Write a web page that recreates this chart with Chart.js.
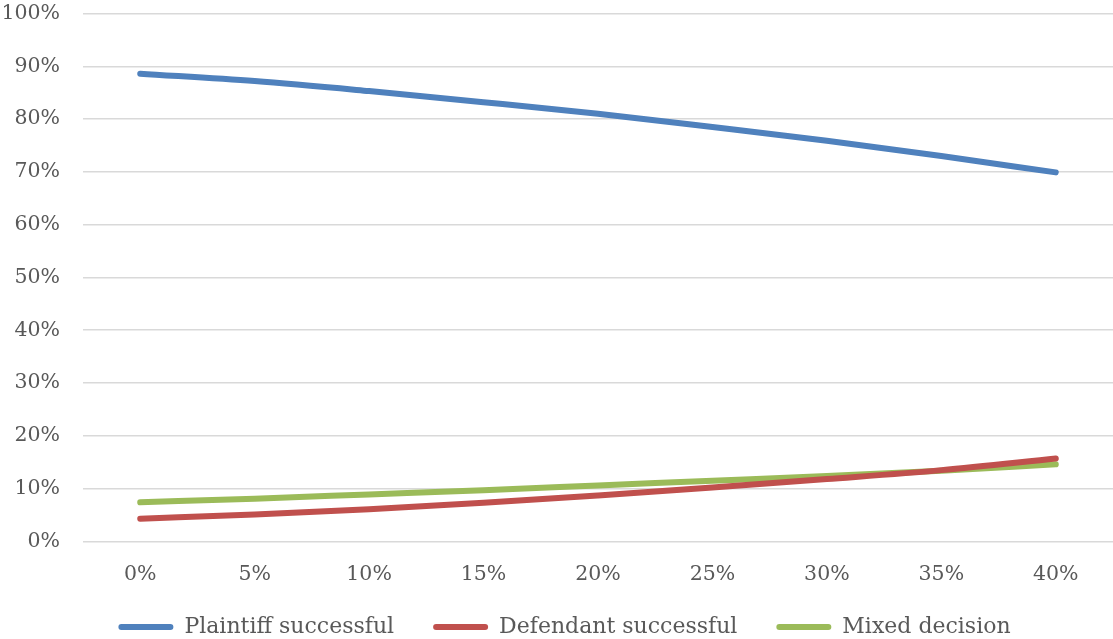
<!DOCTYPE html>
<html>
<head>
<meta charset="utf-8">
<script src="https://cdn.jsdelivr.net/npm/chart.js@4"></script>
<style>
  html, body { margin: 0; padding: 0; background: #ffffff; }
  #wrap { width: 1113px; height: 639px; position: relative; }
</style>
</head>
<body>
<div id="wrap"><canvas id="chart"></canvas></div>
<script>
// Share of outcomes by x-category (percent)
const categories = ['0%', '5%', '10%', '15%', '20%', '25%', '30%', '35%', '40%'];
const plaintiffSuccessful = [88.6, 87.2, 85.3, 83.2, 81.0, 78.5, 75.9, 73.0, 69.9];
const defendantSuccessful = [4.3, 5.1, 6.1, 7.3, 8.7, 10.2, 11.8, 13.5, 15.7];
const mixedDecision = [7.4, 8.1, 8.9, 9.7, 10.6, 11.5, 12.4, 13.4, 14.6];
const seriesNames = ['Plaintiff successful', 'Defendant successful', 'Mixed decision'];
const yTicks = [0, 10, 20, 30, 40, 50, 60, 70, 80, 90, 100];

const colors = ['#4F81BD', '#C0504D', '#9BBB59'];
const family = '"DejaVu Serif", "Liberation Serif", serif';
const tickFont = { family, size: 20.5 };
const legendFont = { family, size: 22 };

function series(label, data, color) {
  return {
    label,
    data,
    borderColor: color,
    backgroundColor: color,
    borderWidth: 6,
    borderCapStyle: 'round',
    pointRadius: 0,
    pointHoverRadius: 0,
    tension: 0.4,
    cubicInterpolationMode: 'monotone',
    fill: false
  };
}

// Pull the legend row up closer to the category labels
const legendLift = {
  id: 'legendLift',
  afterLayout(chart) {
    const lg = chart.legend;
    if (lg) { lg.top -= 31; lg.bottom -= 31; }
  }
};

new Chart(document.getElementById('chart'), {
  type: 'line',
  data: {
    labels: categories,
    datasets: [
      series(seriesNames[0], plaintiffSuccessful, colors[0]),
      series(seriesNames[1], defendantSuccessful, colors[1]),
      series(seriesNames[2], mixedDecision, colors[2])
    ]
  },
  plugins: [legendLift],
  options: {
    responsive: true,
    maintainAspectRatio: false,
    animation: false,
    layout: { padding: { top: 13.5, right: 0, left: 16, bottom: -40 } },
    plugins: {
      tooltip: { enabled: false },
      legend: {
        position: 'bottom',
        labels: {
          color: '#595959',
          font: legendFont,
          boxWidth: 55,
          boxHeight: 6,
          useBorderRadius: true,
          borderRadius: 3,
          padding: 39,
          generateLabels: (chart) =>
            Chart.defaults.plugins.legend.labels.generateLabels(chart).map(item => ({
              ...item,
              lineWidth: 0,
              fillStyle: colors[item.datasetIndex],
              strokeStyle: colors[item.datasetIndex]
            }))
        }
      }
    },
    scales: {
      x: {
        offset: true,
        grid: { display: false, drawTicks: false },
        border: { display: false },
        ticks: { color: '#595959', font: tickFont, padding: 21, maxRotation: 0 }
      },
      y: {
        min: 0,
        max: 100,
        afterBuildTicks: (scale) => { scale.ticks = yTicks.map(v => ({ value: v })); },
        afterFit: (scale) => {
          scale.width = 67;
          // let the widest label run into the left margin
          scale._computeLabelArea = () => undefined;
        },
        grid: {
          color: '#D9D9D9',
          lineWidth: 1.5,
          drawTicks: true,
          tickLength: 23,
          tickColor: 'rgba(0,0,0,0)'
        },
        border: { display: false },
        ticks: {
          color: '#595959',
          font: tickFont,
          padding: 0,
          callback: (v) => v + '%'
        }
      }
    }
  }
});
</script>
</body>
</html>
